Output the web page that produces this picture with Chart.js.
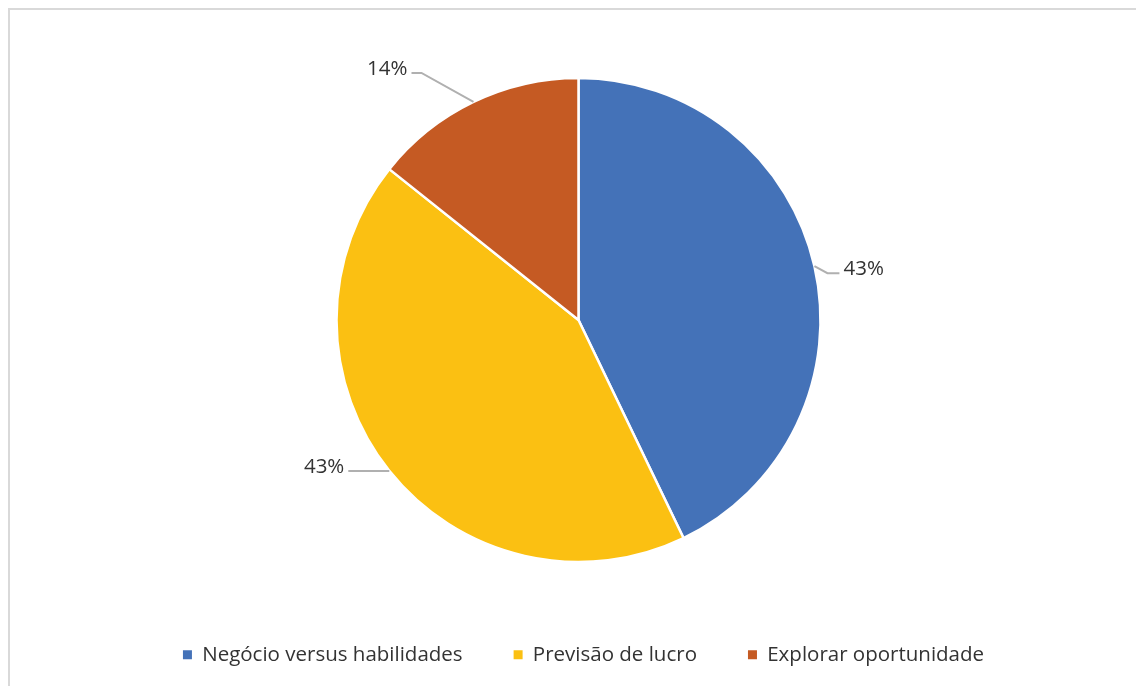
<!DOCTYPE html>
<html>
<head>
<meta charset="utf-8">
<script src="https://cdn.jsdelivr.net/npm/chart.js@4/dist/chart.umd.min.js"></script>
<style>
    html, body { margin: 0; padding: 0; background: #fff; overflow: hidden; }
    #frame {
        position: absolute; left: 8px; top: 8px; width: 1200px; height: 700px;
        border-left: 2px solid #d9d9d9; border-top: 2px solid #d9d9d9;
    }
    #wrap { position: absolute; left: 0; top: 0; width: 1136px; height: 686px; }
</style>
</head>
<body>
<div id="frame"></div>
<div id="wrap"><canvas id="pie" width="1136" height="686"></canvas></div>
<script>
    "use strict";

    // motivos
    var categories = ['Negócio versus habilidades', 'Previsão de lucro', 'Explorar oportunidade'];
    var counts = [3, 3, 1];
    var percentLabels = ['43%', '43%', '14%'];
    var colors = ['#4472B8', '#FBC012', '#C55A23'];

    var FONT = '"Open Sans", "Noto Sans", sans-serif';
    var TEXT = '#333333';

    // label placement relative to the slice's outer mid point: end of the leader line and side of text
    var labelOffsets = [
        { dx: 25, dy: 7, knee: 12, side: 1 },
        { dx: -41, dy: 0, knee: 12, side: -1 },
        { dx: -62, dy: -29, knee: 10, side: -1 }
    ];

    // leader lines + percentages outside the pie
    var outsideLabels = {
        id: 'outsideLabels',
        afterLayout: function(chart) {
            // legend row sits a little right of the pie centre
            chart.legend.left += 5;
            chart.legend.right += 5;
        },
        afterDatasetsDraw: function(chart) {
            var ctx = chart.ctx;
            var meta = chart.getDatasetMeta(0);
            ctx.save();
            meta.data.forEach(function(arc, i) {
                var p = arc.getProps(['x', 'y', 'startAngle', 'endAngle', 'outerRadius'], true);
                var mid = (p.startAngle + p.endAngle) / 2;
                var ex = p.x + Math.cos(mid) * p.outerRadius;
                var ey = p.y + Math.sin(mid) * p.outerRadius;
                var o = labelOffsets[i];
                var ax = ex + o.dx, ay = ey + o.dy;
                var kx = ax - o.side * o.knee;
                ctx.strokeStyle = '#b0b0b0';
                ctx.lineWidth = 2;
                ctx.beginPath();
                ctx.moveTo(ex, ey);
                ctx.lineTo(kx, ay);
                ctx.lineTo(ax, ay);
                ctx.stroke();
                ctx.fillStyle = TEXT;
                ctx.font = '20.5px ' + FONT;
                ctx.textBaseline = 'middle';
                ctx.textAlign = o.side > 0 ? 'left' : 'right';
                ctx.fillText(percentLabels[i], ax + o.side * 4, ay - 4);
            });
            ctx.restore();
        }
    };

    new Chart(document.getElementById('pie').getContext('2d'), {
        type: 'pie',
        data: {
            labels: categories,
            datasets: [{
                data: counts,
                backgroundColor: colors,
                borderColor: '#ffffff',
                borderWidth: 2.5
            }]
        },
        options: {
            responsive: false,
            animation: false,
            radius: 242,
            layout: { padding: { top: 46.5, bottom: 11, left: 21, right: 0 } },
            plugins: {
                tooltip: { enabled: false },
                legend: {
                    position: 'bottom',
                    labels: {
                        boxWidth: 9,
                        boxHeight: 9,
                        padding: 51,
                        color: TEXT,
                        font: { family: FONT, size: 20.5 },
                        generateLabels: function(chart) {
                            var items = Chart.controllers.pie.overrides.plugins.legend.labels.generateLabels(chart);
                            items.forEach(function(it) { it.lineWidth = 0; });
                            return items;
                        }
                    }
                }
            }
        },
        plugins: [outsideLabels]
    });
</script>
</body>
</html>
